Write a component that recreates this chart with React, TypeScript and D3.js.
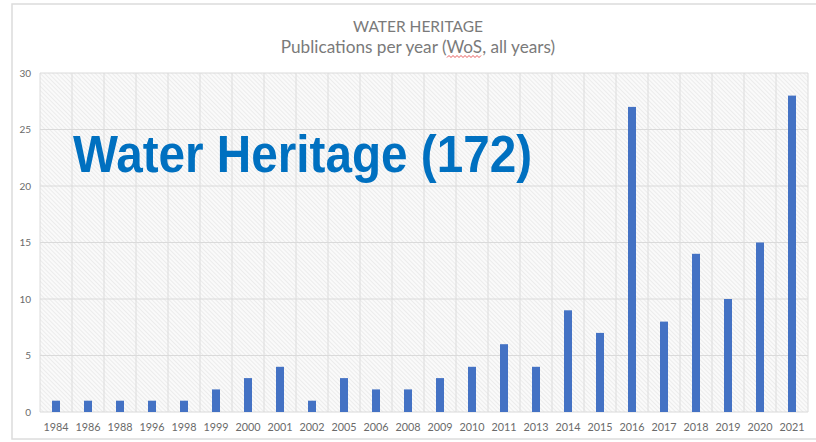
import * as d3 from 'd3';
import React from 'react';

// publications per year
const years = ['1984', '1986', '1988', '1996', '1998', '1999', '2000', '2001', '2002', '2005', '2006', '2008',
  '2009', '2010', '2011', '2013', '2014', '2015', '2016', '2017', '2018', '2019', '2020', '2021'];
const counts = [1, 1, 1, 1, 1, 2, 3, 4, 1, 3, 2, 2, 3, 4, 6, 4, 9, 7, 27, 8, 14, 10, 15, 28];
const yTicks = [0, 5, 10, 15, 20, 25, 30];

const width = 816;
const height = 442;
const margin = { top: 73, right: 8, bottom: 30, left: 40 };

const App = () => {
  const x = d3.scaleBand()
    .domain(years)
    .range([margin.left, width - margin.right])
    .paddingInner(0)
    .paddingOuter(0);

  const y = d3.scaleLinear()
    .domain([0, 30])
    .range([height - margin.bottom, margin.top]);

  const barW = x.bandwidth() * 0.25;
  const grey = '#6a6a6a';

  // wavy spell-check underline under "WoS"
  const squiggle = d3.range(0, 35, 2).map((d, i) => [447 + d, i % 2 ? 55.5 : 57.5]);

  return (
    <svg width={width} height={height} style={{ position: 'absolute', left: 0, top: 0 }}>
      <defs>
        <pattern id="hatch" width="3" height="3" patternUnits="userSpaceOnUse" patternTransform="rotate(-45)">
          <rect width="3" height="3" fill="#fafafa" />
          <line x1="0" y1="0" x2="0" y2="3" stroke="#dedede" strokeWidth="1" />
        </pattern>
      </defs>
      <rect width={width} height={height} fill="#fff" />
      <rect x={12} y={4} width={820} height={435} fill="none" stroke="#dcdcdc" strokeWidth={1.5} />

      {/* plot area */}
      <rect x={margin.left} y={y(30)} width={width - margin.right - margin.left} height={y(0) - y(30)} fill="url(#hatch)" />
      {yTicks.map(t => (
        <line key={'h' + t} x1={margin.left} x2={width - margin.right} y1={y(t)} y2={y(t)} stroke="#dadada" strokeWidth={1} />
      ))}
      {years.map(yr => (
        <line key={'v' + yr} x1={x(yr)!} x2={x(yr)!} y1={y(30)} y2={y(0)} stroke="#dcdcdc" strokeWidth={1} />
      ))}
      <line x1={width - margin.right} x2={width - margin.right} y1={y(30)} y2={y(0)} stroke="#dcdcdc" />

      {/* bars */}
      {counts.map((c, i) => (
        <rect key={years[i]} x={x(years[i])! + (x.bandwidth() - barW) / 2} y={y(c)} width={barW} height={y(0) - y(c)} fill="#4472c4" />
      ))}

      {/* axes labels */}
      {yTicks.map(t => (
        <text key={'yl' + t} x={31} y={y(t) + 3.5} textAnchor="end" fontSize={10} fill={grey} fontFamily="Lato, 'Open Sans', sans-serif">{t}</text>
      ))}
      {years.map(yr => (
        <text key={'xl' + yr} x={x(yr)! + x.bandwidth() / 2} y={431} textAnchor="middle" fontSize={10.8} fill={grey} fontFamily="Lato, 'Open Sans', sans-serif">{yr}</text>
      ))}

      {/* titles */}
      <text x={418} y={32} textAnchor="middle" fontSize={15.5} fill="#7a7a7a" fontFamily="Lato, 'Open Sans', sans-serif">WATER HERITAGE</text>
      <text x={418} y={53} textAnchor="middle" fontSize={17.2} fill="#7a7a7a" fontFamily="Lato, 'Open Sans', sans-serif">Publications per year (WoS, all years)</text>
      <polyline points={squiggle.map(p => p.join(',')).join(' ')} fill="none" stroke="#e03030" strokeWidth={0.8} />

      <text x={73} y={172} fontSize={51} fontWeight="bold" fill="#0070c0" fontFamily="'Liberation Sans', Arial, sans-serif"
        textLength={459} lengthAdjust="spacingAndGlyphs">Water Heritage (172)</text>
    </svg>
  );
};

export default App;
